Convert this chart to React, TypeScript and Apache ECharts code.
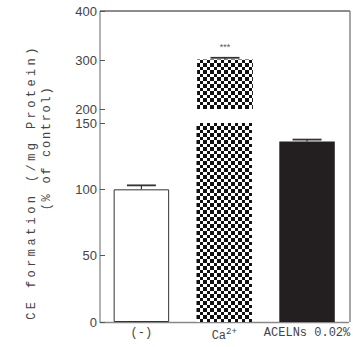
import React, { useEffect, useRef } from "react";
import * as echarts from "echarts";

// ---- data ----
const categories = ["(-)", "Ca2+", "ACELNs 0.02%"];
const categoryLabels = ["(-)", "Ca{sup|2+}", "ACELNs 0.02%"];
const values = [100, 301, 136];
const errors = [3, 3.5, 1.5];
const significance = ["", "***", ""];
const upperRange = { min: 200, max: 400, interval: 100 };
const lowerRange = { min: 0, max: 150, interval: 50 };
const yTitle1 = "CE formation (/mg Protein)";
const yTitle2 = "(% of control)";

// ---- layout ----
const W = 353;
const H = 347;
const LEFT = 100;
const RIGHT = 350;
const TOP = 11;
const UPPER_BOTTOM = 109;
const LOWER_TOP = 123;
const BOTTOM = 322;

function makeChecker(): HTMLCanvasElement {
  const c = document.createElement("canvas");
  c.width = 7;
  c.height = 7;
  const ctx = c.getContext("2d")!;
  ctx.fillStyle = "#ffffff";
  ctx.fillRect(0, 0, 7, 7);
  ctx.fillStyle = "#111111";
  ctx.fillRect(0, 0, 4, 4);
  ctx.fillRect(4, 4, 3, 3);
  ctx.fillRect(4, 0, 0, 0);
  return c;
}

function errorSeries(idx: number, range: { min: number; max: number }) {
  return {
    type: "custom",
    xAxisIndex: idx,
    yAxisIndex: idx,
    clip: true,
    z: 4,
    data: values.map((v, i) => [i, v, errors[i]]),
    renderItem: (_params: any, api: any) => {
      const i = api.value(0);
      const v = api.value(1);
      const e = api.value(2);
      if (v + e < range.min || v + e > range.max) return null;
      const base = api.coord([i, v]);
      const top = api.coord([i, v + e]);
      const half = 14.5;
      return {
        type: "group",
        children: [
          {
            type: "line",
            shape: { x1: base[0], y1: base[1], x2: top[0], y2: top[1] },
            style: { stroke: "#333", lineWidth: 1.2 },
          },
          {
            type: "line",
            shape: { x1: top[0] - half, y1: top[1], x2: top[0] + half, y2: top[1] },
            style: { stroke: "#333", lineWidth: 1.8 },
          },
        ],
      };
    },
  };
}

export default function App() {
  const ref = useRef<HTMLDivElement>(null);

  useEffect(() => {
    if (!ref.current) return;
    const chart = echarts.init(ref.current, undefined, { renderer: "svg" });
    const checker = makeChecker();
    const itemStyles: any[] = [
      { color: "#ffffff", borderColor: "#333", borderWidth: 1 },
      { color: { image: checker, repeat: "repeat", imageWidth: 7, imageHeight: 7 } },
      { color: "#231f20" },
    ];

    const barSeries = (idx: number) => ({
      type: "bar",
      xAxisIndex: idx,
      yAxisIndex: idx,
      barWidth: "67%",
      clip: true,
      z: 2,
      data: values.map((v, i) => ({
        value: v,
        itemStyle: itemStyles[i],
        label:
          idx === 0 && significance[i]
            ? {
                show: true,
                position: "top",
                distance: 8,
                formatter: significance[i],
                fontSize: 9,
                color: "#555",
              }
            : { show: false },
      })),
    });

    const yAxisCommon = {
      type: "value",
      axisLine: { show: false },
      axisTick: { show: true, inside: true, length: 5, lineStyle: { color: "#555", width: 1 } },
      splitLine: { show: false },
      axisLabel: {
        margin: 3,
        fontFamily: "Liberation Sans",
        fontSize: 13,
        color: "#444",
      },
    };

    chart.setOption({
      animation: false,
      grid: [
        { left: LEFT, right: W - RIGHT, top: TOP, height: UPPER_BOTTOM - TOP },
        { left: LEFT, right: W - RIGHT, top: LOWER_TOP, height: BOTTOM - LOWER_TOP },
      ],
      xAxis: [
        { gridIndex: 0, type: "category", data: categories, show: false },
        {
          gridIndex: 1,
          type: "category",
          data: categories,
          axisLine: { lineStyle: { color: "#888", width: 1.3 } },
          axisTick: {
            inside: true,
            alignWithLabel: true,
            length: 5,
            lineStyle: { color: "#666" },
          },
          axisLabel: {
            interval: 0,
            margin: 5,
            fontFamily: "Liberation Mono",
            fontSize: 12,
            color: "#444",
            formatter: (_v: string, i: number) => categoryLabels[i],
            rich: {
              sup: {
                fontFamily: "Liberation Mono",
                fontSize: 9,
                color: "#444",
                padding: [0, 0, 9, 0],
              },
            },
          },
        },
      ],
      yAxis: [
        { ...yAxisCommon, gridIndex: 0, ...upperRange },
        { ...yAxisCommon, gridIndex: 1, ...lowerRange },
      ],
      graphic: [
        {
          type: "line",
          shape: { x1: LEFT, y1: TOP, x2: RIGHT, y2: TOP },
          style: { stroke: "#666", lineWidth: 1.3 },
        },
        {
          type: "line",
          shape: { x1: RIGHT, y1: TOP, x2: RIGHT, y2: BOTTOM },
          style: { stroke: "#777", lineWidth: 1.3 },
        },
        {
          type: "line",
          shape: { x1: LEFT, y1: TOP, x2: LEFT, y2: BOTTOM },
          style: { stroke: "#999", lineWidth: 1.5 },
        },
        {
          type: "text",
          x: 32,
          y: 182,
          rotation: Math.PI / 2,
          style: {
            text: yTitle1,
            fontFamily: "Liberation Mono",
            fontSize: 12,
            fill: "#444",
            textAlign: "center",
            verticalAlign: "middle",
          },
        },
        {
          type: "text",
          x: 47,
          y: 148,
          rotation: Math.PI / 2,
          style: {
            text: yTitle2,
            fontFamily: "Liberation Mono",
            fontSize: 12,
            fill: "#444",
            textAlign: "center",
            verticalAlign: "middle",
          },
        },
      ],
      series: [barSeries(0), barSeries(1), errorSeries(0, upperRange), errorSeries(1, lowerRange)],
    });

    const spaceTitles = () => {
      const root = ref.current;
      if (!root) return;
      root.querySelectorAll("text").forEach((t) => {
        if (t.textContent === yTitle1) t.setAttribute("letter-spacing", "3.4");
        else if (t.textContent === yTitle2) t.setAttribute("letter-spacing", "1.7");
      });
    };
    spaceTitles();
    chart.on("finished", spaceTitles);
    const timer = setTimeout(spaceTitles, 50);

    return () => {
      clearTimeout(timer);
      chart.dispose();
    };
  }, []);

  return (
    <div
      ref={ref}
      style={{ position: "absolute", left: 0, top: 0, width: W, height: H, background: "#fff" }}
    />
  );
}
